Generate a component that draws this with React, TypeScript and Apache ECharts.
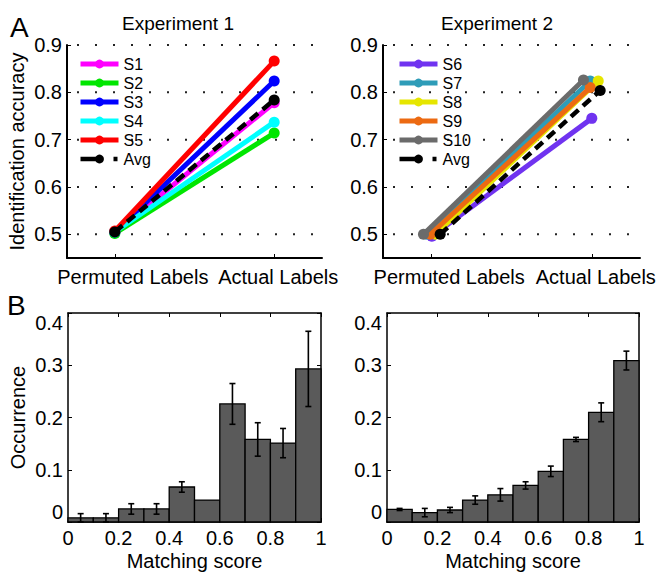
import React, { useEffect, useRef } from 'react';
import * as echarts from 'echarts';

const FONT = '"Liberation Sans", Arial, Helvetica, sans-serif';

// ---- Panel A: identification accuracy ----
const conditionLabels = ['Permuted Labels', 'Actual Labels'];
const conditionPos = [1, 2];
const accuracyTicks = [0.5, 0.6, 0.7, 0.8, 0.9];

const exp1Names = ['S1', 'S2', 'S3', 'S4', 'S5', 'Avg'];
const exp1Colors = ['#ff00ff', '#00e600', '#0000ff', '#00ffff', '#ff0000', '#000000'];
const exp1PermX = [1, 1, 1, 1, 1, 1];
const exp1PermY = [0.504, 0.502, 0.505, 0.505, 0.507, 0.505];
const exp1ActualX = [2, 2, 2, 2, 2, 2];
const exp1ActualY = [0.778, 0.714, 0.824, 0.737, 0.866, 0.784];

const exp2Names = ['S6', 'S7', 'S8', 'S9', 'S10', 'Avg'];
const exp2Colors = ['#7033f0', '#2e9cb8', '#e6e600', '#ec6a12', '#6b6b6b', '#000000'];
const exp2PermX = [1.004, 0.973, 1.025, 0.994, 0.952, 1.056];
const exp2PermY = [0.496, 0.5, 0.5, 0.5, 0.5, 0.5];
const exp2ActualX = [2.0, 1.99, 2.04, 1.99, 1.948, 2.052];
const exp2ActualY = [0.745, 0.824, 0.824, 0.81, 0.826, 0.804];

// ---- Panel B: matching score histograms ----
const binLower = [0, 0.1, 0.2, 0.3, 0.4, 0.5, 0.6, 0.7, 0.8, 0.9];
const binUpper = [0.1, 0.2, 0.3, 0.4, 0.5, 0.6, 0.7, 0.8, 0.9, 1.0];
const exp1Occurrence = [0.008, 0.008, 0.025, 0.025, 0.067, 0.042, 0.226, 0.158, 0.151, 0.293];
const exp1Error = [0.008, 0.008, 0.010, 0.010, 0.010, 0, 0.039, 0.032, 0.028, 0.072];
const exp2Occurrence = [0.024, 0.018, 0.023, 0.042, 0.052, 0.070, 0.097, 0.158, 0.210, 0.309];
const exp2Error = [0.002, 0.008, 0.005, 0.008, 0.012, 0.007, 0.010, 0.004, 0.018, 0.018];

function lineSeries(names: string[], colors: string[], px: number[], py: number[], ax: number[], ay: number[], idx: number) {
  return names.map((name, i) => {
    const isAvg = name === 'Avg';
    return {
      type: 'line',
      name,
      xAxisIndex: idx,
      yAxisIndex: idx,
      data: [[px[i], py[i]], [ax[i], ay[i]]],
      symbol: 'circle',
      symbolSize: 11,
      lineStyle: { color: colors[i], width: isAvg ? 4.5 : 5, type: isAvg ? [10, 6] : 'solid' },
      itemStyle: { color: colors[i] },
      z: 3 + i,
    };
  });
}

// dotted horizontal grid lines at the accuracy ticks
function gridSeries(idx: number) {
  return {
    type: 'custom',
    xAxisIndex: idx,
    yAxisIndex: idx,
    silent: true,
    data: accuracyTicks.map((v) => [1, v]),
    encode: { y: 1 },
    renderItem: (params: any, api: any) => {
      const cs = params.coordSys;
      const p = api.coord([1, api.value(1)]);
      return {
        type: 'line',
        shape: { x1: cs.x + 10, y1: p[1], x2: cs.x + cs.width - 8, y2: p[1] },
        style: { stroke: '#222', lineWidth: 2, lineDash: [2, 16], fill: null },
      };
    },
    z: 1,
  };
}

function barSeries(occ: number[], idx: number) {
  return {
    type: 'custom',
    xAxisIndex: idx,
    yAxisIndex: idx,
    data: occ.map((v, i) => [binLower[i], binUpper[i], v]),
    encode: { x: [0, 1], y: 2 },
    renderItem: (params: any, api: any) => {
      const p0 = api.coord([api.value(0), api.value(2)]);
      const p1 = api.coord([api.value(1), 0]);
      return {
        type: 'rect',
        shape: { x: p0[0], y: p0[1], width: p1[0] - p0[0], height: p1[1] - p0[1] },
        style: { fill: '#5a5a5a', stroke: '#000', lineWidth: 1.3 },
      };
    },
    z: 2,
  };
}

function errorSeries(occ: number[], err: number[], idx: number) {
  return {
    type: 'custom',
    xAxisIndex: idx,
    yAxisIndex: idx,
    data: occ.map((v, i) => [(binLower[i] + binUpper[i]) / 2, v, err[i]]),
    encode: { x: 0, y: 1 },
    renderItem: (params: any, api: any) => {
      const x = api.value(0);
      const v = api.value(1);
      const e = api.value(2);
      if (!e) return null;
      const top = api.coord([x, v + e]);
      const bot = api.coord([x, v - e]);
      const cap = 3;
      const st = { stroke: '#000', lineWidth: 1.6 };
      return {
        type: 'group',
        children: [
          { type: 'line', shape: { x1: top[0], y1: top[1], x2: bot[0], y2: bot[1] }, style: st },
          { type: 'line', shape: { x1: top[0] - cap, y1: top[1], x2: top[0] + cap, y2: top[1] }, style: st },
          { type: 'line', shape: { x1: bot[0] - cap, y1: bot[1], x2: bot[0] + cap, y2: bot[1] }, style: st },
        ],
      };
    },
    z: 5,
  };
}

const labelStyle = { color: '#000', fontSize: 20, fontFamily: FONT };

function topXAxis(gridIndex: number) {
  return {
    gridIndex,
    type: 'value',
    min: 0.7,
    max: 2.3,
    axisLine: { show: true, onZero: false, lineStyle: { color: '#000', width: 2 } },
    axisTick: { show: true, inside: true, length: 4, customValues: conditionPos, lineStyle: { color: '#000' } },
    axisLabel: {
      ...labelStyle,
      customValues: conditionPos,
      margin: 9,
      formatter: (v: number) => {
        const i = conditionPos.indexOf(v);
        return i === 0 ? `{p|${conditionLabels[0]}}` : `{a|${conditionLabels[1]}}`;
      },
      rich: {
        p: { ...labelStyle, padding: [0, 0, 0, 36] },
        a: { ...labelStyle, padding: [0, 0, 0, 8] },
      },
    },
    splitLine: { show: false },
  };
}

function topYAxis(gridIndex: number, name: string) {
  return {
    gridIndex,
    type: 'value',
    min: 0.45,
    max: 0.9,
    name,
    nameLocation: 'middle',
    nameGap: 40,
    nameTextStyle: { ...labelStyle },
    axisLine: { show: true, onZero: false, lineStyle: { color: '#000', width: 2 } },
    axisTick: { show: true, inside: true, length: 4, customValues: accuracyTicks, lineStyle: { color: '#000' } },
    axisLabel: { ...labelStyle, customValues: accuracyTicks, margin: 5, formatter: (v: number) => v.toFixed(1) },
    splitLine: { show: false },
  };
}

function histXAxes(gridIndex: number) {
  const common = {
    gridIndex,
    type: 'value',
    min: 0,
    max: 1,
    interval: 0.2,
    splitLine: { show: false },
    axisLine: { show: true, onZero: false, lineStyle: { color: '#000', width: 1.5 } },
    axisTick: { show: true, inside: true, length: 4, lineStyle: { color: '#000' } },
  };
  return [
    {
      ...common,
      position: 'bottom',
      name: 'Matching score',
      nameLocation: 'middle',
      nameGap: 29,
      nameTextStyle: { ...labelStyle },
      axisLabel: { ...labelStyle, margin: 6 },
    },
    { ...common, position: 'top', axisLabel: { show: false } },
  ];
}

function histYAxes(gridIndex: number, name: string) {
  const common = {
    gridIndex,
    type: 'value',
    min: 0,
    max: 0.4,
    interval: 0.1,
    splitLine: { show: false },
    axisLine: { show: true, onZero: false, lineStyle: { color: '#000', width: 1.5 } },
    axisTick: { show: true, inside: true, length: 4, lineStyle: { color: '#000' } },
  };
  return [
    {
      ...common,
      position: 'left',
      name,
      nameLocation: 'middle',
      nameGap: 40,
      nameTextStyle: { ...labelStyle },
      axisLabel: { ...labelStyle, margin: 5, verticalAlignMinLabel: 'bottom', verticalAlignMaxLabel: 'top' },
    },
    { ...common, position: 'right', axisLabel: { show: false } },
  ];
}

function legendFor(names: string[], left: number) {
  return {
    orient: 'vertical',
    left,
    top: 56,
    padding: 0,
    itemWidth: 38,
    itemHeight: 11,
    itemGap: 3,
    selectedMode: false,
    lineStyle: { width: 5 },
    textStyle: { color: '#000', fontSize: 16, fontFamily: FONT, lineHeight: 16 },
    data: names.map((n) =>
      n === 'Avg' ? { name: n, lineStyle: { width: 4.5, type: [19, 14, 4, 100] } } : { name: n }
    ),
  };
}

function textEl(text: string, x: number, y: number, size: number, align: string) {
  return {
    type: 'text',
    x,
    y,
    style: {
      text,
      fill: '#000',
      fontSize: size,
      fontFamily: FONT,
      textAlign: align,
      align,
      textVerticalAlign: 'middle',
      verticalAlign: 'middle',
    },
  };
}

export default function App() {
  const ref = useRef<HTMLDivElement>(null);
  useEffect(() => {
    document.body.style.margin = '0';
    if (!ref.current) return;
    const chart = echarts.init(ref.current, undefined, { renderer: 'svg' });
    const option: any = {
      animation: false,
      backgroundColor: '#fff',
      textStyle: { fontFamily: FONT },
      grid: [
        { left: 67, top: 45, width: 255, height: 213 },
        { left: 383, top: 45, width: 257, height: 213 },
        { left: 68, top: 313, width: 253, height: 211 },
        { left: 387, top: 313, width: 252, height: 211 },
      ],
      xAxis: [topXAxis(0), topXAxis(1), ...histXAxes(2), ...histXAxes(3)],
      yAxis: [
        topYAxis(0, 'Identification accuracy'),
        topYAxis(1, ''),
        ...histYAxes(2, 'Occurrence'),
        ...histYAxes(3, ''),
      ],
      legend: [legendFor(exp1Names, 78), legendFor(exp2Names, 397)],
      series: [
        gridSeries(0),
        gridSeries(1),
        ...lineSeries(exp1Names, exp1Colors, exp1PermX, exp1PermY, exp1ActualX, exp1ActualY, 0),
        ...lineSeries(exp2Names, exp2Colors, exp2PermX, exp2PermY, exp2ActualX, exp2ActualY, 1),
        barSeries(exp1Occurrence, 2),
        errorSeries(exp1Occurrence, exp1Error, 2),
        barSeries(exp2Occurrence, 4),
        errorSeries(exp2Occurrence, exp2Error, 4),
      ],
      graphic: [
        textEl('A', 10, 27, 28, 'left'),
        textEl('B', 7, 305, 28, 'left'),
        textEl('Experiment 1', 178, 23, 19, 'center'),
        textEl('Experiment 2', 497, 23, 19, 'center'),
      ],
    };
    chart.setOption(option);
    return () => chart.dispose();
  }, []);
  return <div ref={ref} style={{ width: 659, height: 572 }} />;
}
